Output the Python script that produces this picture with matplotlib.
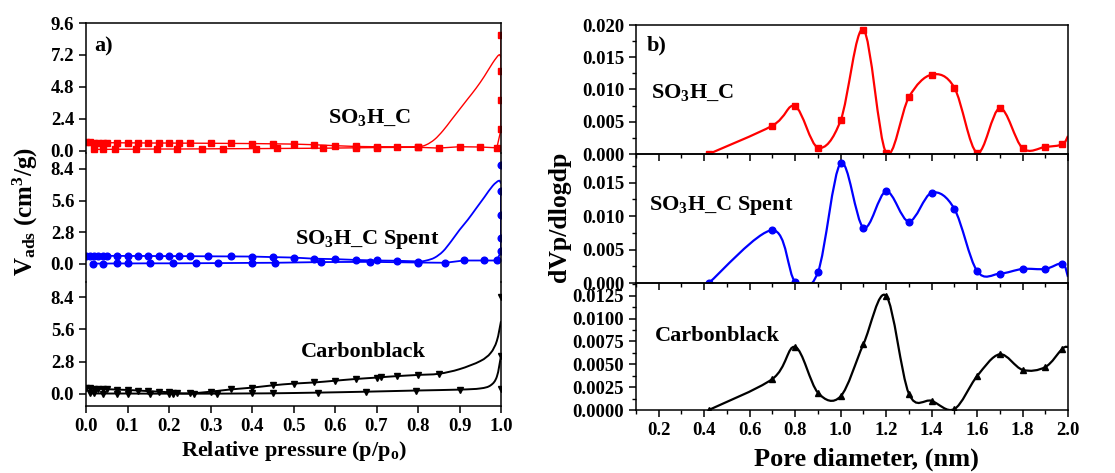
import numpy as np
import matplotlib
matplotlib.use("Agg")
import matplotlib.pyplot as plt
from matplotlib.path import Path
from matplotlib.patches import PathPatch
from matplotlib.ticker import MultipleLocator, FormatStrFormatter

plt.rcParams['font.family'] = ['Liberation Serif', 'DejaVu Serif']
plt.rcParams['font.weight'] = 'bold'
plt.rcParams['mathtext.fontset'] = 'custom'
plt.rcParams['mathtext.rm'] = 'Liberation Serif:bold'
plt.rcParams['mathtext.it'] = 'Liberation Serif:bold'
plt.rcParams['mathtext.bf'] = 'Liberation Serif:bold'
plt.rcParams['axes.linewidth'] = 1.1

# ---- a) N2 isotherms ----
so3_ads_x = [0.02, 0.04, 0.07, 0.12, 0.17, 0.22, 0.28, 0.33, 0.41, 0.46, 0.57, 0.65, 0.7,
             0.8, 0.85, 0.9, 0.95, 0.99, 1.0, 1.0, 1.0, 1.0]
so3_ads_y = [0.1, 0.1, 0.11, 0.12, 0.13, 0.13, 0.14, 0.15, 0.16, 0.17, 0.19, 0.22, 0.24,
             0.26, 0.2, 0.3, 0.28, 0.22, 1.6, 3.8, 6.0, 8.7]
so3_des_x = [0.0, 0.01, 0.02, 0.03, 0.04, 0.05, 0.075, 0.1, 0.125, 0.15, 0.175, 0.2, 0.225,
             0.25, 0.3, 0.35, 0.4, 0.45, 0.5, 0.55, 0.6, 0.65, 0.7, 0.75, 0.8]
so3_des_y = [0.62, 0.62, 0.61, 0.61, 0.6, 0.6, 0.6, 0.59, 0.59, 0.58, 0.58, 0.58, 0.57,
             0.57, 0.56, 0.55, 0.54, 0.52, 0.5, 0.45, 0.38, 0.32, 0.3, 0.29, 0.29]
so3_fit_x = [0.7, 0.75, 0.8, 0.82, 0.84, 0.86, 0.88, 0.9, 0.92, 0.94, 0.96, 0.98, 0.995, 1.0]
so3_fit_y = [0.29, 0.27, 0.3, 0.45, 0.85, 1.5, 2.3, 3.1, 3.9, 4.7, 5.6, 6.6, 7.2, 7.0]

spent_ads_x = [0.018, 0.042, 0.074, 0.102, 0.155, 0.21, 0.265, 0.318, 0.4, 0.456, 0.566,
               0.685, 0.8, 0.866, 0.91, 0.96, 0.99, 1.0, 1.0, 1.0, 1.0]
spent_ads_y = [0.03, 0.03, 0.04, 0.04, 0.05, 0.05, 0.06, 0.07, 0.09, 0.1, 0.16, 0.18,
               0.12, 0.1, 0.3, 0.3, 0.3, 1.1, 2.3, 4.3, 6.4]
spent_top_x = [1.0]
spent_top_y = [8.7]
spent_des_x = [0.0, 0.01, 0.02, 0.03, 0.04, 0.05, 0.075, 0.1, 0.125, 0.15, 0.175, 0.2, 0.224,
               0.25, 0.295, 0.35, 0.4, 0.45, 0.5, 0.55, 0.6, 0.65, 0.7, 0.75, 0.8]
spent_des_y = [0.72, 0.72, 0.72, 0.71, 0.71, 0.71, 0.71, 0.7, 0.7, 0.7, 0.69, 0.69, 0.69,
               0.68, 0.67, 0.66, 0.65, 0.6, 0.56, 0.46, 0.42, 0.35, 0.3, 0.28, 0.21]
spent_fit_x = [0.75, 0.8, 0.82, 0.84, 0.86, 0.88, 0.9, 0.92, 0.94, 0.96, 0.98, 0.995, 1.0]
spent_fit_y = [0.2, 0.2, 0.3, 0.55, 1.1, 2.0, 3.0, 3.9, 4.9, 5.9, 6.9, 7.35, 7.1]

cb_up_x = [0.0, 0.01, 0.02, 0.03, 0.04, 0.05, 0.075, 0.1, 0.125, 0.15, 0.175, 0.2, 0.21,
           0.22, 0.25, 0.3, 0.35, 0.4, 0.45, 0.5, 0.55, 0.6, 0.65, 0.7, 0.71, 0.75, 0.8, 0.85,
           0.9, 0.95, 0.975, 0.99, 1.0]
cb_up_y = [0.5, 0.48, 0.46, 0.45, 0.44, 0.42, 0.38, 0.35, 0.3, 0.25, 0.2, 0.15, 0.12,
           0.08, 0.05, 0.2, 0.4, 0.55, 0.75, 0.9, 1.0, 1.15, 1.3, 1.42, 1.45, 1.55, 1.65, 1.75,
           2.15, 2.85, 3.55, 4.6, 6.3]
cb_low_x = [0.01, 0.02, 0.04, 0.075, 0.1, 0.155, 0.2, 0.21, 0.26, 0.315, 0.4, 0.45, 0.56,
            0.675, 0.795, 0.9, 0.95, 0.975, 0.99, 1.0]
cb_low_y = [0.05, 0.05, 0.04, 0.04, 0.04, 0.03, 0.03, 0.03, 0.03, 0.03, 0.05, 0.06, 0.12,
            0.2, 0.3, 0.38, 0.48, 0.75, 1.5, 3.3]
cb_end_x = [1.0, 1.0, 1.0]
cb_end_y = [8.4, 3.3, 0.4]

# ---- b) pore size distribution ----
pore_x = [0.42, 0.7, 0.8, 0.9, 1.0, 1.1, 1.2, 1.3, 1.4, 1.5, 1.6, 1.7, 1.8, 1.9, 1.975, 2.0]
so3_psd = [0.0, 0.0044, 0.0074, 0.001, 0.0052, 0.0193, 0.0002, 0.0088, 0.0123, 0.0103,
           0.0002, 0.0071, 0.0009, 0.0011, 0.0015, 0.0028]
spent_psd = [0.0, 0.0079, 0.0002, 0.0016, 0.0179, 0.0083, 0.0137, 0.0092, 0.0135, 0.0111,
             0.0018, 0.0014, 0.0021, 0.0021, 0.0029, 0.0009]
cb_psd = [0.0, 0.0034, 0.0069, 0.0019, 0.0015, 0.0072, 0.0125, 0.0018, 0.001, 0.0001,
          0.0037, 0.0061, 0.0044, 0.0047, 0.0067, 0.0069]


def spline(ax, x, y, color, lw):
    # Catmull-Rom curve through the points, drawn as cubic Bezier segments
    p = np.column_stack([x, y]).astype(float)
    n = len(p)
    verts = [p[0]]
    codes = [Path.MOVETO]
    for i in range(n - 1):
        p0 = p[i - 1] if i > 0 else p[i]
        p3 = p[i + 2] if i + 2 < n else p[i + 1]
        verts += [p[i] + (p[i + 1] - p0) / 6, p[i + 1] - (p3 - p[i]) / 6, p[i + 1]]
        codes += [Path.CURVE4] * 3
    ax.add_patch(PathPatch(Path(verts, codes), fill=False, edgecolor=color, lw=lw))


fig = plt.figure(figsize=(11.15, 4.73), dpi=100)
W, H = 1115.0, 473.0


def box(x0, x1, y0, y1):
    return [x0 / W, (H - y1) / H, (x1 - x0) / W, (y1 - y0) / H]


tick_fs = 13.5

# left panel
axa1 = fig.add_axes(box(86, 501, 23, 153))
axa2 = fig.add_axes(box(86, 501, 153, 282))
axa3 = fig.add_axes(box(86, 501, 282, 406))

ms = 4.2
axa1.plot(so3_ads_x, so3_ads_y, color='red', lw=1.0, marker='s', ms=ms)
axa1.plot(so3_des_x, so3_des_y, color='red', lw=1.0, marker='s', ms=ms)
spline(axa1, so3_fit_x, so3_fit_y, 'red', 1.0)
axa1.set_ylim(-0.17, 9.6)
axa1.set_yticks([0.0, 2.4, 4.8, 7.2, 9.6])
axa1.text(0.684, 2.5, 'SO$_3$H_C', fontsize=16, ha='center', va='center')
axa1.text(0.02, 0.82, 'a)', transform=axa1.transAxes, fontsize=16, va='center')

axa2.plot(spent_ads_x, spent_ads_y, color='blue', lw=1.3, marker='o', ms=ms + 0.6)
axa2.plot(spent_top_x, spent_top_y, color='blue', lw=0, marker='o', ms=ms + 0.6)
axa2.plot(spent_des_x, spent_des_y, color='blue', lw=1.3, marker='o', ms=ms + 0.6)
spline(axa2, spent_fit_x, spent_fit_y, 'blue', 1.3)
axa2.set_ylim(-1.6, 9.8)
axa2.set_yticks([0.0, 2.8, 5.6, 8.4])
axa2.text(0.677, 2.2, 'SO$_3$H_C Spent', fontsize=16, ha='center', va='center')

cb_mask = np.array(cb_up_x) <= 0.86
spline(axa3, cb_up_x, cb_up_y, 'black', 1.4)
axa3.plot(np.array(cb_up_x)[cb_mask], np.array(cb_up_y)[cb_mask], lw=0, color='black',
          marker='v', ms=ms + 0.8)
spline(axa3, cb_low_x, cb_low_y, 'black', 1.4)
axa3.plot(cb_low_x[:-4], cb_low_y[:-4], lw=0, color='black', marker='v', ms=ms + 0.8)
axa3.plot(cb_end_x, cb_end_y, lw=0, color='black', marker='v', ms=ms + 0.8)
axa3.set_ylim(-1.04, 9.7)
axa3.set_yticks([0.0, 2.8, 5.6, 8.4])
axa3.text(0.669, 3.67, 'Carbonblack', fontsize=16, ha='center', va='center')

for i, ax in enumerate([axa1, axa2, axa3]):
    ax.set_xlim(0, 1.0)
    ax.set_facecolor('none')
    ax.xaxis.set_major_locator(MultipleLocator(0.1))
    ax.xaxis.set_major_formatter(FormatStrFormatter('%.1f'))
    ax.yaxis.set_major_formatter(FormatStrFormatter('%.1f'))
    ax.tick_params(direction='out', length=5, width=1.1, labelsize=tick_fs)
    if i > 0:
        ax.spines['top'].set_visible(False)
    if i < 2:
        ax.spines['bottom'].set_visible(False)
        ax.tick_params(axis='x', bottom=False, labelbottom=False)

# right panel
axb1 = fig.add_axes(box(636, 1068, 25, 154))
axb2 = fig.add_axes(box(636, 1068, 154, 283))
axb3 = fig.add_axes(box(636, 1068, 283, 410))

spline(axb1, pore_x, so3_psd, 'red', 1.6)
axb1.plot(pore_x[:-1], so3_psd[:-1], lw=0, color='red', marker='s', ms=ms)
axb1.set_ylim(0, 0.020)
axb1.yaxis.set_major_locator(MultipleLocator(0.005))
axb1.yaxis.set_minor_locator(MultipleLocator(0.0025))
axb1.yaxis.set_major_formatter(FormatStrFormatter('%.3f'))
axb1.text(0.035, 0.47, 'SO$_3$H_C', transform=axb1.transAxes, fontsize=16, va='center')
axb1.text(0.025, 0.84, 'b)', transform=axb1.transAxes, fontsize=16, va='center')

spline(axb2, pore_x, spent_psd, 'blue', 1.6)
axb2.plot(pore_x[:-1], spent_psd[:-1], lw=0, color='blue', marker='o', ms=ms + 0.6)
axb2.set_ylim(0, 0.0193)
axb2.yaxis.set_major_locator(MultipleLocator(0.005))
axb2.yaxis.set_minor_locator(MultipleLocator(0.0025))
axb2.yaxis.set_major_formatter(FormatStrFormatter('%.3f'))
axb2.text(0.03, 0.6, 'SO$_3$H_C Spent', transform=axb2.transAxes, fontsize=16, va='center')

spline(axb3, pore_x, cb_psd, 'black', 1.6)
axb3.plot(pore_x[:-1], cb_psd[:-1], lw=0, color='black', marker='^', ms=ms + 0.6)
axb3.set_ylim(0, 0.0139)
axb3.yaxis.set_major_locator(MultipleLocator(0.0025))
axb3.yaxis.set_minor_locator(MultipleLocator(0.00125))
axb3.yaxis.set_major_formatter(FormatStrFormatter('%.4f'))
axb3.text(0.044, 0.585, 'Carbonblack', transform=axb3.transAxes, fontsize=16, va='center')

for i, ax in enumerate([axb1, axb2, axb3]):
    ax.set_xlim(0.1, 2.0)
    ax.set_facecolor('none')
    ax.xaxis.set_major_locator(MultipleLocator(0.2))
    ax.xaxis.set_minor_locator(MultipleLocator(0.1))
    ax.xaxis.set_major_formatter(FormatStrFormatter('%.1f'))
    ax.tick_params(which='major', direction='out', length=5, width=1.1, labelsize=tick_fs)
    ax.tick_params(which='minor', direction='out', length=3, width=1.0)
    if i < 2:
        ax.tick_params(axis='x', which='both', labelbottom=False)

fig.text(25 / W, 1 - 212 / H, 'V$_{ads}$ (cm$^3$/g)', rotation=90, ha='center', va='center',
         fontsize=18)
fig.text(560 / W, 1 - 217 / H, 'dVp/dlogdp', rotation=90, ha='center', va='center',
         fontsize=18.5)
fig.text(294 / W, 1 - 451 / H, 'Relative pressure (p/p$_{o}$)', ha='center', va='center',
         fontsize=16)
fig.text(866 / W, 1 - 459 / H, 'Pore diameter, (nm)', ha='center', va='center',
         fontsize=19)

fig.savefig('out.png', dpi=100)
